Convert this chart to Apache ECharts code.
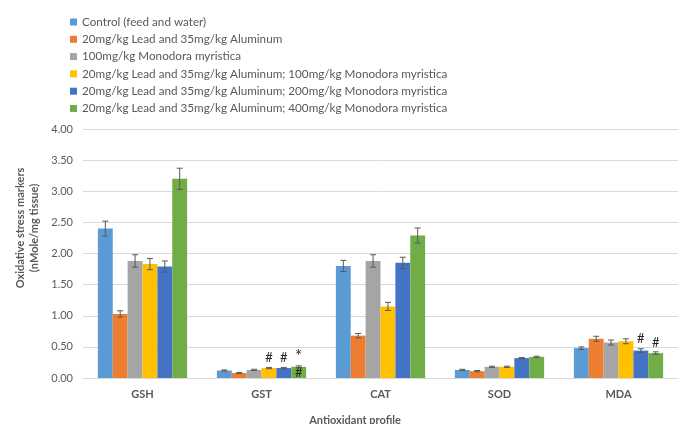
<!DOCTYPE html>
<html>
<head>
<meta charset="utf-8">
<script src="https://cdn.jsdelivr.net/npm/echarts@6/dist/echarts.min.js"></script>
<style>
  html, body { margin: 0; padding: 0; background: #fff; }
  #chart { width: 680px; height: 424px; }
</style>
</head>
<body>
<div id="chart"></div>
<script>
// Antioxidant markers per treatment group (mean, nMole/mg tissue)
const categories = ['GSH', 'GST', 'CAT', 'SOD', 'MDA'];
const groupNames = [
  'Control (feed and water)',
  '20mg/kg Lead and 35mg/kg Aluminum',
  '100mg/kg Monodora myristica',
  '20mg/kg Lead and 35mg/kg Aluminum; 100mg/kg Monodora myristica',
  '20mg/kg Lead and 35mg/kg Aluminum; 200mg/kg Monodora myristica',
  '20mg/kg Lead and 35mg/kg Aluminum; 400mg/kg Monodora myristica'
];
const control      = [2.40, 0.12, 1.80, 0.13, 0.48];
const leadAl       = [1.03, 0.08, 0.68, 0.11, 0.63];
const mm100        = [1.88, 0.13, 1.88, 0.18, 0.57];
const leadAlMm100  = [1.83, 0.16, 1.15, 0.18, 0.59];
const leadAlMm200  = [1.79, 0.16, 1.85, 0.32, 0.44];
const leadAlMm400  = [3.20, 0.18, 2.29, 0.34, 0.40];

// Standard error of the mean
const controlErr     = [0.12, 0.01, 0.09, 0.01, 0.02];
const leadAlErr      = [0.05, 0.01, 0.035, 0.01, 0.04];
const mm100Err       = [0.10, 0.01, 0.10, 0.01, 0.04];
const leadAlMm100Err = [0.09, 0.01, 0.065, 0.01, 0.04];
const leadAlMm200Err = [0.09, 0.01, 0.09, 0.01, 0.03];
const leadAlMm400Err = [0.17, 0.015, 0.12, 0.01, 0.02];

// Significance marks (above the bar / inside the bar)
const marksAbove = [
  ['', '', '', '', ''],
  ['', '', '', '', ''],
  ['', '', '', '', ''],
  ['', '#', '', '', ''],
  ['', '#', '', '', '#'],
  ['', '*', '', '', '#']
];
const marksInside = [
  ['', '', '', '', ''],
  ['', '', '', '', ''],
  ['', '', '', '', ''],
  ['', '', '', '', ''],
  ['', '', '', '', ''],
  ['', '#', '', '', '']
];

const yTicks = [0, 0.5, 1, 1.5, 2, 2.5, 3, 3.5, 4];

const means = [control, leadAl, mm100, leadAlMm100, leadAlMm200, leadAlMm400];
const errs = [controlErr, leadAlErr, mm100Err, leadAlMm100Err, leadAlMm200Err, leadAlMm400Err];
const colors = ['#5B9BD5', '#ED7D31', '#A5A5A5', '#FFC000', '#4472C4', '#70AD47'];
const nGroups = means.length;
const catGap = 0.25;

const errRows = [];
means.forEach((arr, s) => {
  arr.forEach((v, c) => {
    errRows.push([c, v, errs[s][c], s]);
  });
});

const textColor = '#595959';
const fontFamily = 'Lato, "Open Sans", sans-serif';

const chart = echarts.init(document.getElementById('chart'));

const barSeries = means.map((arr, s) => ({
  name: groupNames[s],
  type: 'bar',
  data: arr,
  barGap: '0%',
  barCategoryGap: (catGap * 100) + '%',
  itemStyle: { color: colors[s] },
  emphasis: { disabled: true },
  z: 2
}));

const errorSeries = {
  type: 'custom',
  name: 'sem',
  data: errRows,
  encode: { x: 0, y: 1 },
  z: 5,
  clip: false,
  silent: true,
  renderItem: function (params, api) {
    const row = errRows[params.dataIndex];
    const c = row[0], v = row[1], e = row[2], s = row[3];
    const catW = api.size([1, 0])[0];
    const bw = catW * (1 - catGap) / nGroups;
    const cx = api.coord([c, v])[0] + (s - (nGroups - 1) / 2) * bw;
    const yTop = api.coord([c, v + e])[1];
    const yBot = api.coord([c, v - e])[1];
    const yBase = api.coord([c, 0])[1];
    const cap = 3;
    const lineStyle = { stroke: '#595959', lineWidth: 1 };
    const children = [
      { type: 'line', shape: { x1: cx, y1: yTop, x2: cx, y2: yBot }, style: lineStyle },
      { type: 'line', shape: { x1: cx - cap, y1: yTop, x2: cx + cap, y2: yTop }, style: lineStyle },
      { type: 'line', shape: { x1: cx - cap, y1: yBot, x2: cx + cap, y2: yBot }, style: lineStyle }
    ];
    const above = marksAbove[s][c];
    if (above) {
      const star = above === '*';
      children.push({
        type: 'text',
        style: {
          text: above, x: cx, y: star ? yTop - 1 : yTop - 3,
          align: 'center', verticalAlign: 'bottom',
          fill: '#262626', font: (star ? '17px ' : '13px ') + fontFamily
        }
      });
    }
    const inside = marksInside[s][c];
    if (inside) {
      children.push({
        type: 'text',
        style: {
          text: inside, x: cx, y: yBase - 5,
          align: 'center', verticalAlign: 'middle',
          fill: '#262626', font: '13px ' + fontFamily
        }
      });
    }
    return { type: 'group', children: children };
  }
};

chart.setOption({
  animation: false,
  backgroundColor: '#ffffff',
  textStyle: { fontFamily: fontFamily },
  legend: {
    data: groupNames,
    orient: 'vertical',
    left: 65,
    top: 10,
    itemWidth: 7,
    itemHeight: 7,
    itemGap: 3.3,
    icon: 'rect',
    selectedMode: false,
    textStyle: { color: textColor, fontSize: 11.7, lineHeight: 14, fontFamily: fontFamily }
  },
  grid: { left: 83, right: 2, top: 129, bottom: 46, containLabel: false },
  xAxis: {
    type: 'category',
    data: categories,
    axisTick: { show: false },
    axisLine: { lineStyle: { color: '#D9D9D9', width: 1 } },
    axisLabel: { color: textColor, fontSize: 11, fontWeight: 'bold', margin: 11 }
  },
  yAxis: {
    type: 'value',
    min: yTicks[0],
    max: yTicks[yTicks.length - 1],
    interval: yTicks[1] - yTicks[0],
    axisLine: { show: false },
    axisTick: { show: false },
    splitLine: { lineStyle: { color: '#D9D9D9', width: 1 } },
    axisLabel: {
      color: textColor, fontSize: 11, margin: 10,
      formatter: v => v.toFixed(2)
    }
  },
  graphic: [
    {
      type: 'text',
      x: 27, y: 228,
      rotation: Math.PI / 2,
      style: {
        text: 'Oxidative stress markers\n(nMole/mg tissue)',
        align: 'center', verticalAlign: 'middle',
        fill: textColor, font: 'bold 11px ' + fontFamily, lineHeight: 14
      }
    },
    {
      type: 'text',
      x: 355, y: 420,
      style: {
        text: 'Antioxidant profile',
        align: 'center', verticalAlign: 'middle',
        fill: textColor, font: 'bold 11px ' + fontFamily
      }
    }
  ],
  series: barSeries.concat([errorSeries])
});
</script>
</body>
</html>
